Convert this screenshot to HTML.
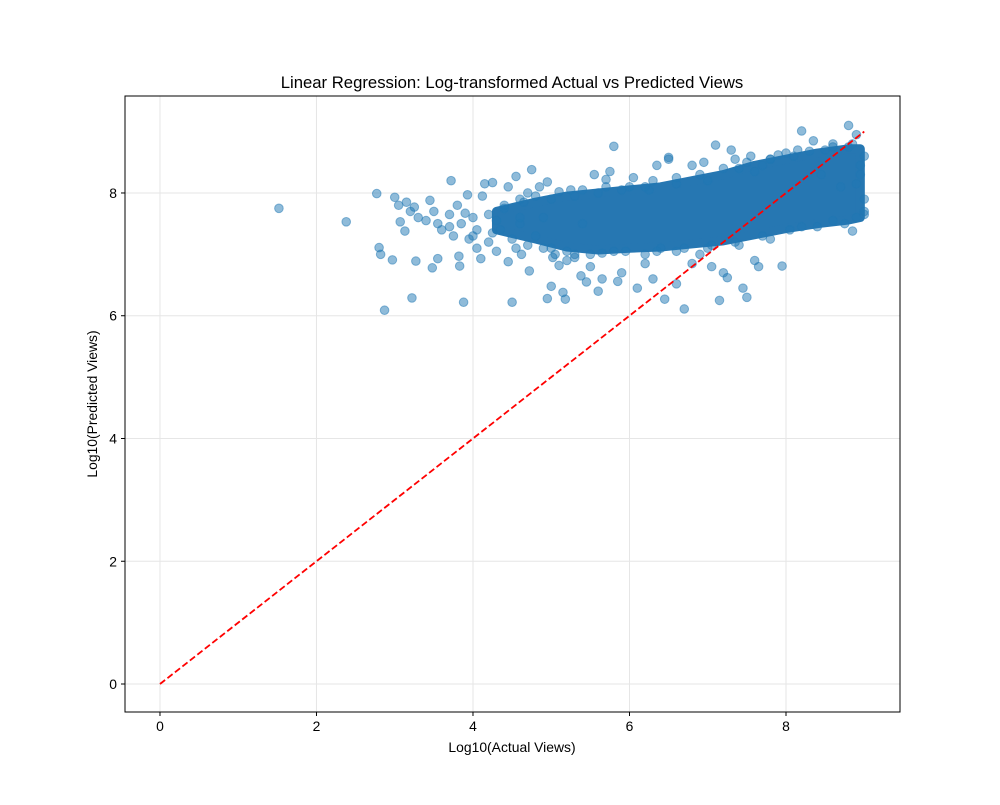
<!DOCTYPE html>
<html><head><meta charset="utf-8">
<style>
body{margin:0;background:#fff;}
svg text{font-family:"Liberation Sans","DejaVu Sans",sans-serif;fill:#000;}
</style></head>
<body>
<svg id="chart" width="1000" height="800" viewBox="0 0 1000 800">
<rect width="1000" height="800" fill="#fff"/>
<g id="grid"></g>
<g id="marks"></g>
<g id="ref"></g>
<rect x="125" y="96" width="775" height="616" fill="none" stroke="#000" stroke-width="1"/>
<g id="axes"></g>
<text x="512" y="88" text-anchor="middle" font-size="16.7">Linear Regression: Log-transformed Actual vs Predicted Views</text>
<text x="512" y="752" text-anchor="middle" font-size="13.9">Log10(Actual Views)</text>
<text x="97" y="404" text-anchor="middle" font-size="13.9" transform="rotate(-90 97 404)">Log10(Predicted Views)</text>
</svg>
<script>
const xTicks=[0,2,4,6,8];
const yTicks=[0,2,4,6,8];
const refLine=[[0,0],[9,9]];
// dense core band: [x, yLow, yHigh]
const coreX=[4.3,4.8,5.2,5.6,6.0,6.4,6.8,7.2,7.6,8.0,8.4,8.8,8.95];
const coreLow=[7.4,7.25,7.12,7.07,7.1,7.12,7.17,7.22,7.32,7.42,7.5,7.56,7.6];
const coreHigh=[7.7,7.85,7.95,8.0,8.05,8.1,8.2,8.3,8.45,8.55,8.65,8.72,8.72];
const actual=[1.52,2.38,2.77,2.8,2.82,2.87,2.97,3.0,3.05,3.07,3.13,3.15,3.2,3.22,3.25,3.27,3.3,3.4,3.45,3.48,3.5,3.55,3.55,3.6,3.7,3.72,3.75,3.8,3.82,3.83,3.85,3.88,3.9,3.93,3.95,4.0,4.05,4.05,4.1,4.12,4.15,4.2,4.25,4.3,4.35,4.4,4.45,4.45,4.5,4.55,4.55,4.6,4.62,4.65,4.7,4.72,4.75,4.8,4.85,4.9,4.95,4.95,5.0,5.02,5.05,5.1,5.15,5.18,5.2,5.25,5.3,5.38,5.45,5.5,5.55,5.6,5.65,5.7,5.75,5.8,5.85,5.9,6.05,6.1,6.2,6.25,6.3,6.35,6.45,6.5,6.6,6.7,6.8,6.95,7.05,7.1,7.15,7.2,7.25,7.3,7.35,7.45,7.5,7.55,7.6,7.65,7.95,8.2,8.35,8.6,8.8,8.85,8.9,8.95,
5.0,5.3,5.6,5.9,6.2,6.6,7.0,7.4,7.8,8.1,8.5,8.8,5.2,5.5,5.8,6.2,6.6,7.0,7.4,7.8,8.2,8.6,8.9,4.3,4.6,4.0,3.7,4.9,5.4,6.4,6.9,7.7,8.9,9.0,8.7,8.45,9.0,8.95,
4.2,4.4,4.6,4.8,5.1,5.4,5.7,6.0,6.3,6.6,6.9,7.2,7.5,7.8,8.0,8.3,8.6,8.85,9.0,9.0,4.25,4.5,4.7,5.0,5.3,5.65,5.95,6.35,6.7,7.05,7.35,7.7,8.05,8.4,8.75,6.5,6.8,7.6,7.9,8.15];
const predicted=[7.75,7.53,7.99,7.11,7.0,6.09,6.91,7.93,7.8,7.53,7.38,7.85,7.7,6.29,7.77,6.89,7.6,7.55,7.88,6.78,7.7,6.93,7.5,7.4,7.65,8.2,7.3,7.8,6.97,6.81,7.5,6.22,7.67,7.97,7.25,7.6,7.1,7.4,6.93,7.95,8.15,7.2,8.17,7.05,7.4,7.75,6.88,8.1,6.22,7.1,8.27,7.5,7.0,7.85,8.0,6.73,8.38,7.3,8.1,7.1,6.28,8.18,6.48,6.95,7.0,6.82,6.38,6.27,6.9,8.05,6.95,6.65,6.55,6.8,8.3,6.4,6.6,8.22,8.35,8.76,6.56,6.7,8.25,6.45,6.85,8.05,6.6,8.45,6.27,8.58,6.52,6.11,6.85,8.5,6.8,8.78,6.25,6.7,6.62,8.7,8.55,6.45,6.3,8.6,6.9,6.8,6.81,9.01,8.85,8.8,9.1,7.38,8.95,8.3,
7.9,7.95,8.0,8.05,8.1,8.15,8.2,8.4,8.55,8.6,8.7,8.75,7.05,7.0,7.05,7.0,7.05,7.1,7.15,7.25,7.45,7.55,7.6,7.55,7.6,7.3,7.45,7.6,7.5,7.1,7.0,8.45,8.15,7.9,8.1,8.3,7.65,8.45,
7.65,7.8,7.9,7.95,8.02,8.05,8.1,8.1,8.2,8.25,8.3,8.4,8.5,8.55,8.65,8.68,8.75,8.8,8.6,7.7,7.35,7.25,7.15,7.1,7.0,7.02,7.05,7.05,7.1,7.15,7.2,7.3,7.4,7.45,7.5,8.55,8.45,8.35,8.62,8.7];
const X0=-0.447,X1=9.457,Y0=-0.456,Y1=9.58,L=125,R=900,T=96,B=712;
const sx=v=>L+(v-X0)/(X1-X0)*(R-L);
const sy=v=>B-(v-Y0)/(Y1-Y0)*(B-T);
const NS='http://www.w3.org/2000/svg';
function mk(tag,parent,attrs){const e=document.createElementNS(NS,tag);for(const k in attrs)e.setAttribute(k,attrs[k]);parent.appendChild(e);return e;}
const grid=document.getElementById('grid'),axes=document.getElementById('axes'),marks=document.getElementById('marks'),ref=document.getElementById('ref');
xTicks.forEach(t=>{
 const g=mk('line',grid,{x1:sx(t),x2:sx(t),y1:T,y2:B,stroke:'#e6e6e6','stroke-width':1});
 
 
 const tk=mk('line',axes,{x1:sx(t),x2:sx(t),y1:B,y2:B+4,stroke:'#000'});
 
 
 const tx=mk('text',axes,{x:sx(t),y:B+19,'text-anchor':'middle','font-size':13.9});
 tx.textContent=t;
 
 
});
yTicks.forEach(t=>{
 const g=mk('line',grid,{x1:L,x2:R,y1:sy(t),y2:sy(t),stroke:'#e6e6e6','stroke-width':1});
 
 
 const tk=mk('line',axes,{x1:L-4,x2:L,y1:sy(t),y2:sy(t),stroke:'#000'});
 
 
 const tx=mk('text',axes,{x:L-8,y:sy(t)+5,'text-anchor':'end','font-size':13.9});
 tx.textContent=t;
 
 
});
let d='';
coreX.forEach((x,i)=>{d+=(i?'L':'M')+sx(x)+','+sy(coreHigh[i]);});
for(let i=coreX.length-1;i>=0;i--)d+='L'+sx(coreX[i])+','+sy(coreLow[i]);
const core=mk('path',marks,{d:d+'Z',fill:'#2677b2',stroke:'#2677b2','stroke-width':9,'stroke-linejoin':'round'});


actual.forEach((x,i)=>{
 const c=mk('circle',marks,{cx:sx(x),cy:sy(predicted[i]),r:4.3,fill:'#1f77b4','fill-opacity':0.5,stroke:'#1f77b4','stroke-opacity':0.5,'stroke-width':1});
 
 
});
const rl=mk('line',ref,{x1:sx(refLine[0][0]),y1:sy(refLine[0][1]),x2:sx(refLine[1][0]),y2:sy(refLine[1][1]),stroke:'#ff0000','stroke-width':1.8,'stroke-dasharray':'6.5,3'});


</script>
</body></html>
